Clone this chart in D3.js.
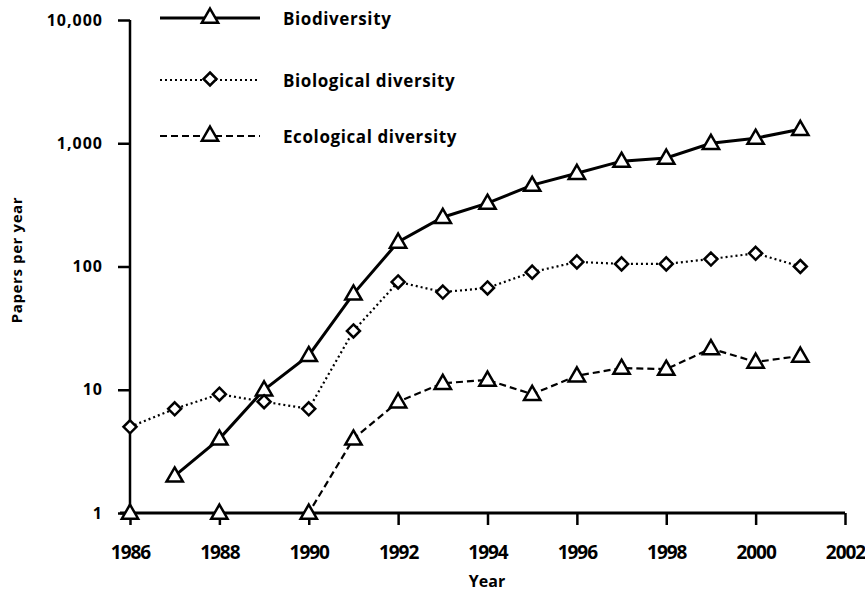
<!DOCTYPE html>
<html>
<head>
<meta charset="utf-8">
<script src="https://cdn.jsdelivr.net/npm/d3@7"></script>
<style>
  body { margin: 0; background: #fff; }
  svg text { font-family: "Open Sans", "DejaVu Sans", sans-serif; font-weight: bold; fill: #000; }
</style>
</head>
<body>
<svg id="chart" width="865" height="595"></svg>
<script>
const years = d3.range(1986, 2002)
const biodiversity = [null, 2, 4, 10, 19, 60, 158, 251, 327, 457, 571, 716, 760, 1000, 1100, 1300]
const biological = [5, 7, 9.2, 8, 7, 30, 75, 62, 67, 90, 109, 105, 105, 115, 128, 100]
const ecological = [1, null, 1, null, 1, 4, 8, 11.3, 12, 9.2, 13, 15, 14.7, 21.6, 16.8, 18.8]
const xTicks = d3.range(1986, 2003, 2)
const yTicks = [1, 10, 100, 1000, 10000]

const svg = d3.select("#chart")
const x = d3.scaleLinear().domain([1986, 2002]).range([130, 845])
const y = d3.scaleLog().domain([1, 10000]).range([513, 20])

// axes
const xAxis = svg.append("g").attr("transform", "translate(0,513)")
  .call(d3.axisBottom(x).tickValues(xTicks).tickFormat(d3.format("d")).tickSize(12).tickPadding(21))
xAxis.select(".domain").attr("d", "M120,0H845").attr("stroke-width", 3)
xAxis.selectAll(".tick line").attr("stroke-width", 2.5)
xAxis.selectAll("text").style("font-size", "19px").style("letter-spacing", "-1px")

const yAxis = svg.append("g").attr("transform", "translate(130,0)")
  .call(d3.axisLeft(y).tickValues(yTicks).tickFormat(d3.format(",")).tickSize(12).tickPadding(15))
yAxis.select(".domain").attr("d", "M0,20V513").attr("stroke-width", 2.5)
yAxis.selectAll(".tick line").attr("stroke-width", 2.5)
yAxis.selectAll("text").style("font-size", "16px").style("letter-spacing", "1px")

svg.append("text").attr("x", 487).attr("y", 587).attr("text-anchor", "middle")
  .style("font-size", "16px").text("Year")
svg.append("text").attr("transform", "translate(22,260) rotate(-90)").attr("text-anchor", "middle")
  .style("font-size", "15px").style("letter-spacing", "0.6px").text("Papers per year")

const triangle = d3.symbol().type(d3.symbolTriangle).size(115)
const diamond = function(s) {
  return "M0," + (-s) + "L" + s + ",0L0," + s + "L" + (-s) + ",0Z"
}

const series = [
  { name: "Biodiversity", values: biodiversity, dash: null, width: 3, marker: "tri", ly: 18 },
  { name: "Biological diversity", values: biological, dash: "2,3", width: 2.2, marker: "dia", ly: 80 },
  { name: "Ecological diversity", values: ecological, dash: "7,4", width: 2.2, marker: "tri", ly: 136 }
]

const line = d3.line().x(d => x(d[0])).y(d => y(d[1]))

function drawMarker(g, m, px, py) {
  if (m == "tri") {
    g.append("path").attr("d", triangle()).attr("transform", "translate(" + px + "," + (py + 1) + ")")
      .attr("fill", "white").attr("stroke", "black").attr("stroke-width", 2.5)
  } else {
    g.append("path").attr("d", diamond(6.5)).attr("transform", "translate(" + px + "," + py + ")")
      .attr("fill", "white").attr("stroke", "black").attr("stroke-width", 2.5)
  }
}

series.forEach(function(s) {
  const pts = years.map((yr, i) => [yr, s.values[i]]).filter(d => d[1] != null)
  svg.append("path").datum(pts).attr("d", line).attr("fill", "none")
    .attr("stroke", "black").attr("stroke-width", s.width)
    .attr("stroke-dasharray", s.dash)
  const g = svg.append("g")
  pts.forEach(d => drawMarker(g, s.marker, x(d[0]), y(d[1])))

  // legend
  svg.append("line").attr("x1", 160).attr("x2", 260).attr("y1", s.ly).attr("y2", s.ly)
    .attr("stroke", "black").attr("stroke-width", s.width).attr("stroke-dasharray", s.dash)
  drawMarker(svg, s.marker, 210, s.ly - 1)
  svg.append("text").attr("x", 283).attr("y", s.ly + 7).style("font-size", "17px")
    .style("letter-spacing", "0.6px").text(s.name)
})
</script>
</body>
</html>
